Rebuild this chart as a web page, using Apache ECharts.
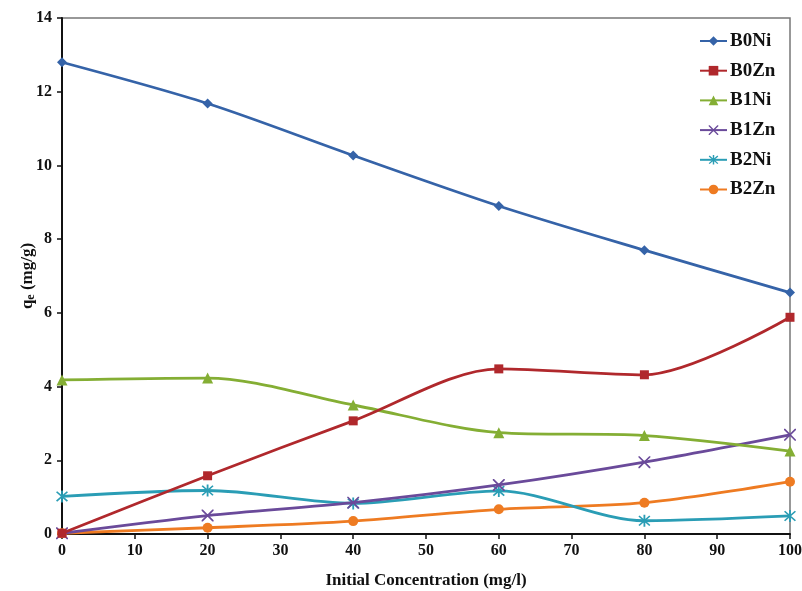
<!DOCTYPE html>
<html>
<head>
<meta charset="utf-8">
<script src="https://cdn.jsdelivr.net/npm/echarts@6/dist/echarts.min.js"></script>
<style>html,body{margin:0;padding:0;background:#fff}#c{width:802px;height:591px}</style>
</head>
<body>
<div id="c"></div>
<script>
var concentrations = [0, 20, 40, 60, 80, 100];
var seriesNames = ['B0Ni', 'B0Zn', 'B1Ni', 'B1Zn', 'B2Ni', 'B2Zn'];
var B0Ni = [12.8, 11.68, 10.27, 8.9, 7.7, 6.55];
var B0Zn = [0.02, 1.58, 3.07, 4.48, 4.32, 5.88];
var B1Ni = [4.18, 4.23, 3.5, 2.75, 2.67, 2.25];
var B1Zn = [0.02, 0.5, 0.85, 1.33, 1.95, 2.69];
var B2Ni = [1.02, 1.18, 0.83, 1.17, 0.36, 0.49];
var B2Zn = [0.02, 0.17, 0.35, 0.67, 0.85, 1.42];
var xTicks = [0, 10, 20, 30, 40, 50, 60, 70, 80, 90, 100];
var yTicks = [0, 2, 4, 6, 8, 10, 12, 14];

var values = [B0Ni, B0Zn, B1Ni, B1Zn, B2Ni, B2Zn];
var colors = ['#3563A8', '#B0282C', '#84AE34', '#6A4A9A', '#2A9DB5', '#EE7B22'];
var xPath = 'path://M0,0 L10,10 M10,0 L0,10 M0,0 L1,0 L10,9 L10,10 L9,10 L0,1 Z M10,0 L10,1 L1,10 L0,10 L0,9 L9,0 Z';
var starPath = 'path://M4.3,0 L5.7,0 L5.7,10 L4.3,10 Z M0.4,1.5 L1.3,0.6 L9.6,8.5 L8.7,9.4 Z M8.7,0.6 L9.6,1.5 L1.3,9.4 L0.4,8.5 Z';
var symbols = ['diamond', 'rect', 'triangle', xPath, starPath, 'circle'];
var sizes = [10, 9, 11, 12, 12, 10];
var font = '"Liberation Serif", "Times New Roman", serif';

var series = seriesNames.map(function (n, i) {
  return {
    name: n,
    type: 'line',
    smooth: 0.3,
    data: concentrations.map(function (c, j) { return [c, values[i][j]]; }),
    symbol: symbols[i],
    symbolSize: sizes[i],
    showAllSymbol: true,
    lineStyle: { width: 2.8, color: colors[i] },
    itemStyle: { color: colors[i], borderColor: colors[i], borderWidth: 0 },
    z: 10 - i
  };
});

var chart = echarts.init(document.getElementById('c'), null, { renderer: 'canvas' });
chart.setOption({
  animation: false,
  backgroundColor: '#fff',
  color: colors,
  grid: { left: 62, right: 12, top: 18, bottom: 57, outerBoundsMode: 'none', containLabel: false, show: true, borderColor: '#777', borderWidth: 1.5, backgroundColor: 'transparent' },
  legend: {
    orient: 'vertical',
    left: 694,
    top: 26,
    itemGap: 9.7,
    itemWidth: 27,
    itemHeight: 12,
    data: seriesNames,
    textStyle: { fontFamily: font, fontWeight: 'bold', fontSize: 19, color: '#111', lineHeight: 20, padding: [0, 0, 0, -2] }
  },
  xAxis: {
    type: 'value', min: xTicks[0], max: xTicks[xTicks.length - 1], interval: 10,
    name: 'Initial Concentration (mg/l)', nameLocation: 'middle', nameGap: 38,
    nameTextStyle: { fontFamily: font, fontWeight: 'bold', fontSize: 17, color: '#111' },
    axisLine: { lineStyle: { color: '#111', width: 2 } },
    axisTick: { show: true, length: 5, lineStyle: { color: '#111', width: 1.5 } },
    axisLabel: { fontFamily: font, fontWeight: 'bold', fontSize: 16, color: '#111', margin: 9 },
    splitLine: { show: false }
  },
  yAxis: {
    type: 'value', min: yTicks[0], max: yTicks[yTicks.length - 1], interval: 2,
    name: '{a|q}{b|e}{a| (mg/g)}', nameLocation: 'middle', nameGap: 25, nameRotate: 90,
    nameMoveOverlap: false,
    nameTextStyle: {
      fontFamily: font, fontWeight: 'bold', fontSize: 17, color: '#111',
      rich: {
        a: { fontFamily: font, fontWeight: 'bold', fontSize: 17, color: '#111' },
        b: { fontFamily: font, fontWeight: 'bold', fontSize: 12, color: '#111', verticalAlign: 'bottom', padding: [6, 0, 0, 0] }
      }
    },
    axisLine: { show: true, lineStyle: { color: '#111', width: 2 } },
    axisTick: { show: true, length: 5, lineStyle: { color: '#111', width: 1.5 } },
    axisLabel: { fontFamily: font, fontWeight: 'bold', fontSize: 16, color: '#111', margin: 10 },
    splitLine: { show: false }
  },
  series: series
});
</script>
</body>
</html>
